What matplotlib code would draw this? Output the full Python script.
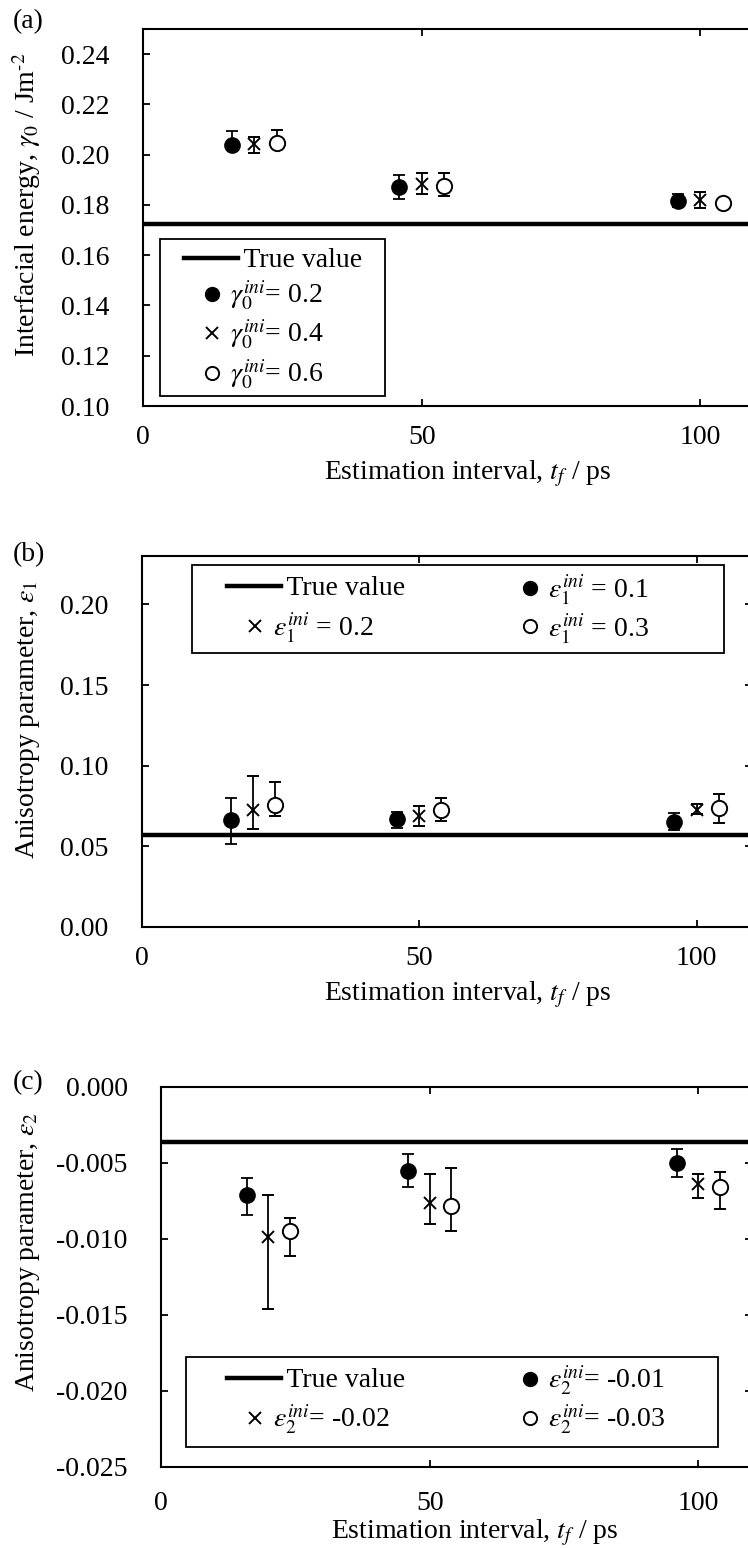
import matplotlib
matplotlib.use('Agg')
import matplotlib.pyplot as plt
import numpy as np
from matplotlib.lines import Line2D
from matplotlib.patches import Rectangle
from matplotlib.legend import Legend
from matplotlib.legend_handler import HandlerLine2D
from matplotlib.ticker import FormatStrFormatter

plt.rcParams['font.family'] = 'serif'
plt.rcParams['font.serif'] = ['Liberation Serif', 'DejaVu Serif']
plt.rcParams['mathtext.fontset'] = 'stix'
plt.rcParams['axes.unicode_minus'] = False

# estimation intervals (ps) and the x shift used for each initial value
t_f = np.array([20, 50, 100])
shift = [-4, 0, 4]

# (a) interfacial energy gamma_0 (J/m^2)
gamma_true = 0.1724
gamma_val = [[0.2037, 0.1873, 0.1817],
             [0.2041, 0.1885, 0.1821],
             [0.2045, 0.1877, 0.1809]]
gamma_lo = [[0.2020, 0.1825, 0.1792],
            [0.2005, 0.1845, 0.1789],
            [0.2025, 0.1837, 0.1799]]
gamma_hi = [[0.2093, 0.1921, 0.1842],
            [0.2069, 0.1929, 0.1853],
            [0.2097, 0.1929, 0.1819]]
gamma_ini = ['0.2', '0.4', '0.6']

# (b) anisotropy parameter epsilon_1
eps1_true = 0.0568
eps1_val = [[0.0661, 0.0667, 0.0652],
            [0.0728, 0.0687, 0.0728],
            [0.0759, 0.0728, 0.0735]]
eps1_lo = [[0.0516, 0.0615, 0.0599],
           [0.0609, 0.0626, 0.0698],
           [0.0687, 0.0657, 0.0646]]
eps1_hi = [[0.0800, 0.0712, 0.0708],
           [0.0938, 0.0749, 0.0763],
           [0.0899, 0.0800, 0.0825]]
eps1_ini = ['0.1', '0.2', '0.3']

# (c) anisotropy parameter epsilon_2
eps2_true = -0.0036
eps2_val = [[-0.0071, -0.0055, -0.0050],
            [-0.0099, -0.0076, -0.0064],
            [-0.0095, -0.0078, -0.0066]]
eps2_lo = [[-0.0084, -0.0066, -0.0059],
           [-0.0146, -0.0090, -0.0073],
           [-0.0111, -0.0095, -0.0080]]
eps2_hi = [[-0.0060, -0.0044, -0.0041],
           [-0.0071, -0.0057, -0.0057],
           [-0.0086, -0.0053, -0.0056]]
eps2_ini = ['-0.01', '-0.02', '-0.03']

styles = [dict(marker='o', ms=11, mfc='black', mec='black'),
          dict(marker='x', ms=9, mfc='black', mec='black', mew=1.4),
          dict(marker='o', ms=11, mfc='white', mec='black', mew=1.4)]
leg_ms = [10, 8, 9.5]

FS = 20
W, H = 748, 1548


class LongLine(HandlerLine2D):
    # line handle that runs past its handle box, like the spreadsheet legend
    def __init__(self, start=-0.5, end=1.45, **kw):
        super().__init__(**kw)
        self.start = start
        self.end = end

    def get_xdata(self, legend, xdescent, ydescent, width, height, fontsize):
        x0 = -xdescent + self.start * fontsize
        x1 = -xdescent + self.end * fontsize
        return np.array([x0, x1]), np.array([0.5 * (x0 + x1)])


def draw_panel(ax, vals, lo, hi, true_val, ylim, yticks, yfmt):
    ax.axhline(true_val, color='black', lw=3.2, zorder=2)
    for i in range(3):
        v = np.array(vals[i])
        err = [v - np.array(lo[i]), np.array(hi[i]) - v]
        ax.errorbar(t_f + shift[i], v, yerr=err, ls='none', ecolor='black',
                    elinewidth=1.3, capsize=4.5, capthick=1.3, zorder=3,
                    **styles[i])
    ax.set_xlim(0, 110)
    ax.set_ylim(*ylim)
    ax.set_xticks([0, 50, 100])
    ax.set_yticks(yticks)
    ax.yaxis.set_major_formatter(FormatStrFormatter(yfmt))
    ax.tick_params(direction='in', top=True, right=True, length=5, width=1.3,
                   labelsize=FS)
    for s in ax.spines.values():
        s.set_linewidth(1.5)


def handles():
    line = Line2D([], [], color='black', lw=3.2)
    marks = []
    for st, ms in zip(styles, leg_ms):
        st = dict(st, ms=ms)
        marks.append(Line2D([], [], ls='none', **st))
    return line, marks


def legend_box(ax, left, top, right, bottom):
    r = Rectangle((left / W, 1 - bottom / H), (right - left) / W, (bottom - top) / H,
                  transform=fig.transFigure, facecolor='white', edgecolor='black',
                  lw=1.3, zorder=5)
    ax.add_artist(r)


def legend_col(ax, hs, labels, left, top, spacing, line=None):
    hmap = {line: LongLine()} if line is not None else {}
    lg = Legend(ax, hs, labels, loc='upper left',
                bbox_to_anchor=(left / W, 1 - top / H), bbox_transform=fig.transFigure,
                frameon=False, borderpad=0, borderaxespad=0, fontsize=FS,
                handlelength=1.0, handletextpad=0.15, labelspacing=spacing,
                handler_map=hmap)
    lg.set_zorder(6)
    ax.add_artist(lg)


fig = plt.figure(figsize=(W / 100, H / 100), dpi=100)


def px_axes(left, top, right, bottom):
    return fig.add_axes([left / W, 1 - bottom / H, (right - left) / W, (bottom - top) / H])


xlab = r'Estimation interval, $t_f$ / ps'

# ---- (a)
ax1 = px_axes(143, 29, 756, 406)
draw_panel(ax1, gamma_val, gamma_lo, gamma_hi, gamma_true, (0.10, 0.25),
           np.arange(0.10, 0.241, 0.02), '%.2f')
ax1.tick_params(axis='y', pad=24)
ax1.tick_params(axis='x', pad=14)
line, marks = handles()
legend_box(ax1, 160, 239, 385, 396)
legend_col(ax1, [line] + marks,
           ['  True value'] + [r'$\gamma_0^{ini}$= %s' % g for g in gamma_ini],
           198, 248, 0.19, line=line)
fig.text(13 / W, 1 - 22 / H, '(a)', fontsize=FS, ha='left', va='center')
fig.text(27 / W, 1 - 205 / H, r'Interfacial energy, $\gamma_0$ / Jm$^{\text{-2}}$',
         fontsize=FS, rotation=90, ha='center', va='center')
fig.text(468 / W, 1 - 474 / H, xlab, fontsize=FS, ha='center', va='center')

# ---- (b)
ax2 = px_axes(142, 556, 752, 927)
draw_panel(ax2, eps1_val, eps1_lo, eps1_hi, eps1_true, (0.0, 0.23),
           np.arange(0.0, 0.201, 0.05), '%.2f')
ax2.tick_params(axis='y', pad=24)
ax2.tick_params(axis='x', pad=14)
line, marks = handles()
legend_box(ax2, 192, 565, 724, 653)
legend_col(ax2, [line, marks[1]],
           ['  True value', r'$\varepsilon_1^{ini}$ = %s' % eps1_ini[1]],
           241, 576, 0.32, line=line)
legend_col(ax2, [marks[0], marks[2]],
           [r'$\varepsilon_1^{ini}$ = %s' % eps1_ini[0], r'$\varepsilon_1^{ini}$ = %s' % eps1_ini[2]],
           516, 572, 0.14)
fig.text(13 / W, 1 - 555 / H, '(b)', fontsize=FS, ha='left', va='center')
fig.text(28 / W, 1 - 720 / H, r'Anisotropy parameter, $\varepsilon_1$',
         fontsize=FS, rotation=90, ha='center', va='center')
fig.text(468 / W, 1 - 995 / H, xlab, fontsize=FS, ha='center', va='center')

# ---- (c)
ax3 = px_axes(161, 1087, 752, 1467)
draw_panel(ax3, eps2_val, eps2_lo, eps2_hi, eps2_true, (-0.025, 0.0),
           np.arange(-0.025, 0.0001, 0.005), '%.3f')
ax3.tick_params(axis='y', pad=24)
ax3.tick_params(axis='x', pad=17)
line, marks = handles()
legend_box(ax3, 186, 1357, 718, 1447)
legend_col(ax3, [line, marks[1]],
           ['  True value', r'$\varepsilon_2^{ini}$= %s' % eps2_ini[1]],
           241, 1368, 0.35, line=line)
legend_col(ax3, [marks[0], marks[2]],
           [r'$\varepsilon_2^{ini}$= %s' % eps2_ini[0], r'$\varepsilon_2^{ini}$= %s' % eps2_ini[2]],
           516, 1364, 0.18)
fig.text(13 / W, 1 - 1083 / H, '(c)', fontsize=FS, ha='left', va='center')
fig.text(28 / W, 1 - 1252 / H, r'Anisotropy parameter, $\varepsilon_2$',
         fontsize=FS, rotation=90, ha='center', va='center')
fig.text(475 / W, 1 - 1538 / H, xlab, fontsize=FS, ha='center', va='baseline')

fig.savefig('out.png', dpi=100)
